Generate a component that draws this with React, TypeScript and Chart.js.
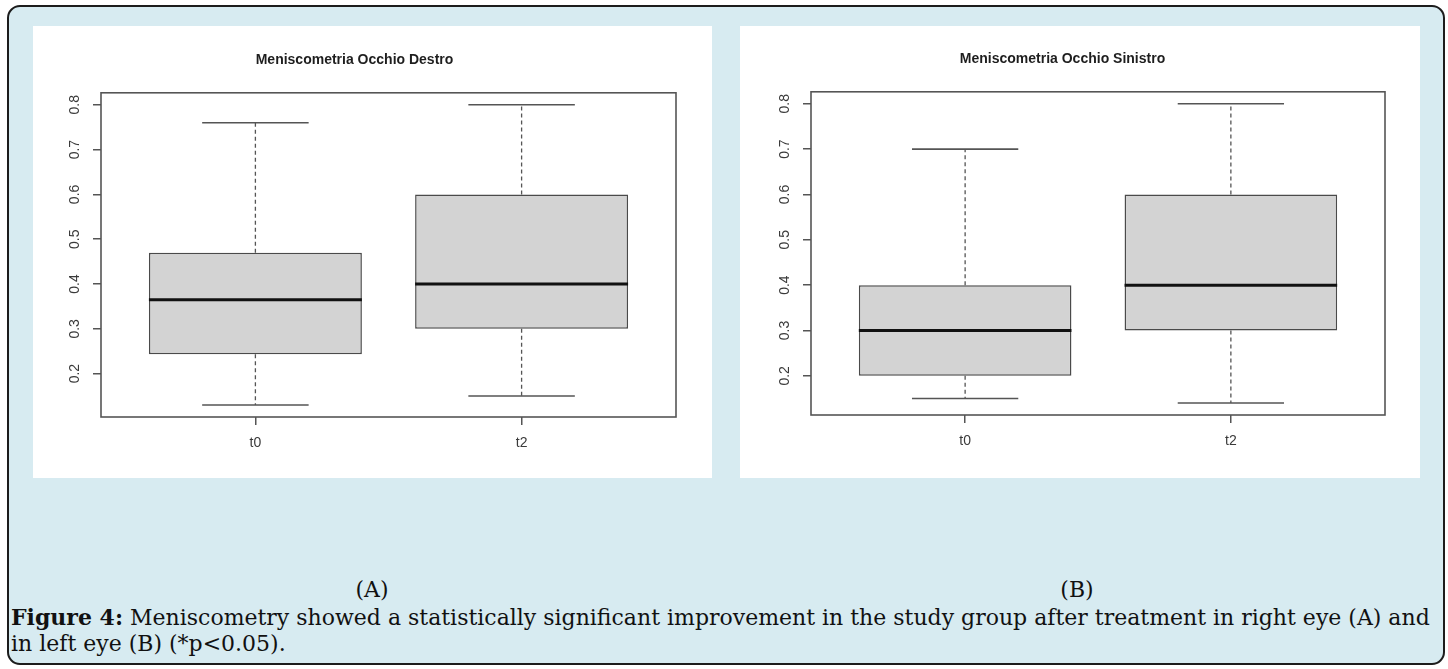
import React, { useEffect, useRef } from 'react';
import { Chart, registerables } from 'chart.js';

Chart.register(...registerables);

// ---------- data ----------
const CATEGORIES = ['t0', 't2'];
const Y_TICKS = [0.2, 0.3, 0.4, 0.5, 0.6, 0.7, 0.8];

// Panel A – right eye
const RIGHT_TITLE = 'Meniscometria Occhio Destro';
const RIGHT_MIN = [0.13, 0.15];
const RIGHT_Q1 = [0.243, 0.3];
const RIGHT_MEDIAN = [0.365, 0.4];
const RIGHT_Q3 = [0.47, 0.6];
const RIGHT_MAX = [0.76, 0.8];

// Panel B – left eye
const LEFT_TITLE = 'Meniscometria Occhio Sinistro';
const LEFT_MIN = [0.15, 0.14];
const LEFT_Q1 = [0.2, 0.3];
const LEFT_MEDIAN = [0.3, 0.4];
const LEFT_Q3 = [0.4, 0.6];
const LEFT_MAX = [0.7, 0.8];

const PANEL_LABELS = ['(A)', '(B)'];
const CAPTION_BOLD = 'Figure 4:';
const CAPTION_LINE1 =
  ' Meniscometry showed a statistically significant improvement in the study group after treatment in right eye (A) and';
const CAPTION_LINE2 = 'in left eye (B) (*p<0.05).';

type Stats = { min: number[]; q1: number[]; median: number[]; q3: number[]; max: number[] };
type Geo = { yAxisWidth: number; padRight: number; xAxisHeight: number; titleTop: number; titleBottom: number };

const AXIS_FONT = 'Liberation Sans, Arial, sans-serif';
const LINE_COLOR = '#555555';

function makeBoxPlugin(s: Stats) {
  return {
    id: 'rBoxPlot',
    beforeDatasetsDraw(chart: any) {
      const { ctx } = chart;
      const y = chart.scales.y;
      const bars = chart.getDatasetMeta(0).data;
      ctx.save();
      bars.forEach((bar: any, i: number) => {
        const cx = bar.x;
        const staple = bar.width / 4;
        const pMin = y.getPixelForValue(s.min[i]);
        const pMax = y.getPixelForValue(s.max[i]);
        const pQ1 = y.getPixelForValue(s.q1[i]);
        const pQ3 = y.getPixelForValue(s.q3[i]);
        ctx.strokeStyle = LINE_COLOR;
        ctx.lineWidth = 1.3;
        ctx.setLineDash([4, 3]);
        ctx.beginPath();
        ctx.moveTo(cx, pQ3);
        ctx.lineTo(cx, pMax);
        ctx.moveTo(cx, pQ1);
        ctx.lineTo(cx, pMin);
        ctx.stroke();
        ctx.setLineDash([]);
        ctx.lineWidth = 1.6;
        ctx.beginPath();
        ctx.moveTo(cx - staple, pMax);
        ctx.lineTo(cx + staple, pMax);
        ctx.moveTo(cx - staple, pMin);
        ctx.lineTo(cx + staple, pMin);
        ctx.stroke();
      });
      ctx.restore();
    },
    afterDatasetsDraw(chart: any) {
      const { ctx } = chart;
      const y = chart.scales.y;
      const bars = chart.getDatasetMeta(0).data;
      ctx.save();
      ctx.strokeStyle = '#111111';
      ctx.lineWidth = 3;
      bars.forEach((bar: any, i: number) => {
        const pm = y.getPixelForValue(s.median[i]);
        ctx.beginPath();
        ctx.moveTo(bar.x - bar.width / 2, pm);
        ctx.lineTo(bar.x + bar.width / 2, pm);
        ctx.stroke();
      });
      ctx.restore();
    },
    afterDraw(chart: any) {
      const { ctx, chartArea } = chart;
      const y = chart.scales.y;
      ctx.save();
      ctx.strokeStyle = LINE_COLOR;
      ctx.lineWidth = 1.6;
      ctx.strokeRect(chartArea.left, chartArea.top, chartArea.right - chartArea.left, chartArea.bottom - chartArea.top);
      ctx.fillStyle = '#3a3a3a';
      ctx.font = `14px ${AXIS_FONT}`;
      ctx.textAlign = 'center';
      ctx.textBaseline = 'middle';
      y.ticks.forEach((t: any) => {
        const py = y.getPixelForValue(t.value);
        ctx.save();
        ctx.translate(chartArea.left - 26, py);
        ctx.rotate(-Math.PI / 2);
        ctx.fillText(String(t.value), 0, 0);
        ctx.restore();
      });
      ctx.restore();
    },
  };
}

function BoxPanel({ width, height, title, stats, geo }: { width: number; height: number; title: string; stats: Stats; geo: Geo }) {
  const ref = useRef<HTMLCanvasElement>(null);
  useEffect(() => {
    if (!ref.current) return;
    const lo = Math.min(...stats.min);
    const hi = Math.max(...stats.max);
    const ext = (hi - lo) * 0.04;
    const n = CATEGORIES.length;
    const xExt = n * 0.04;
    const chart = new Chart(ref.current, {
      type: 'bar',
      data: {
        datasets: [
          {
            data: CATEGORIES.map((_, i) => ({ x: i + 1, y: [stats.q1[i], stats.q3[i]] })) as any,
            backgroundColor: '#d3d3d3',
            borderColor: '#4a4a4a',
            borderWidth: 1.5,
            borderSkipped: false,
            barPercentage: 0.8,
            categoryPercentage: 1,
          },
        ],
      },
      options: {
        responsive: false,
        animation: false,
        events: [],
        layout: { padding: { left: 0, right: geo.padRight, top: 0, bottom: 0 } },
        plugins: {
          legend: { display: false },
          tooltip: { enabled: false },
          title: {
            display: true,
            text: title,
            color: '#1e1e1e',
            font: { family: AXIS_FONT, size: 14, weight: 'bold', lineHeight: 1.2 },
            padding: { top: geo.titleTop, bottom: geo.titleBottom },
          },
        },
        scales: {
          x: {
            type: 'linear',
            min: 0.5 - xExt,
            max: n + 0.5 + xExt,
            offset: false,
            afterBuildTicks: (sc: any) => {
              sc.ticks = CATEGORIES.map((_, i) => ({ value: i + 1 }));
            },
            afterFit: (sc: any) => {
              sc.height = geo.xAxisHeight;
            },
            grid: { display: true, drawOnChartArea: false, drawTicks: true, tickLength: 8, color: LINE_COLOR, lineWidth: 1.5, offset: false },
            border: { display: false },
            ticks: {
              callback: (_v: any, i: number) => CATEGORIES[i],
              padding: 10,
              color: '#3a3a3a',
              font: { family: AXIS_FONT, size: 14 },
              maxRotation: 0,
              autoSkip: false,
            },
          },
          y: {
            type: 'linear',
            min: lo - ext,
            max: hi + ext,
            beginAtZero: false,
            afterBuildTicks: (sc: any) => {
              sc.ticks = Y_TICKS.map((v) => ({ value: v }));
            },
            afterFit: (sc: any) => {
              sc.width = geo.yAxisWidth;
            },
            grid: { display: true, drawOnChartArea: false, drawTicks: true, tickLength: 8, color: LINE_COLOR, lineWidth: 1.5 },
            border: { display: false },
            ticks: { display: false },
          },
        },
      } as any,
      plugins: [makeBoxPlugin(stats) as any],
    });
    return () => chart.destroy();
  }, []);
  return <canvas ref={ref} width={width} height={height} style={{ display: 'block', width, height }} />;
}

const captionFont = '"DejaVu Serif", "Liberation Serif", serif';

export default function App() {
  const rightStats: Stats = { min: RIGHT_MIN, q1: RIGHT_Q1, median: RIGHT_MEDIAN, q3: RIGHT_Q3, max: RIGHT_MAX };
  const leftStats: Stats = { min: LEFT_MIN, q1: LEFT_Q1, median: LEFT_MEDIAN, q3: LEFT_Q3, max: LEFT_MAX };
  return (
    <div style={{ position: 'absolute', left: 0, top: 0, width: 1448, height: 669, overflow: 'hidden', background: '#ffffff' }}>
      <div
        style={{
          position: 'absolute',
          left: 7,
          top: 5,
          width: 1434,
          height: 656,
          border: '2px solid #1c1c1c',
          borderRadius: 13,
          background: '#d7ebf1',
        }}
      />
      <div style={{ position: 'absolute', left: 33, top: 26, width: 679, height: 452, background: '#ffffff' }}>
        <BoxPanel
          width={679}
          height={452}
          title={RIGHT_TITLE}
          stats={rightStats}
          geo={{ yAxisWidth: 68, padRight: 36, xAxisHeight: 61, titleTop: 26, titleBottom: 24 }}
        />
      </div>
      <div style={{ position: 'absolute', left: 740, top: 26, width: 680, height: 452, background: '#ffffff' }}>
        <BoxPanel
          width={680}
          height={452}
          title={LEFT_TITLE}
          stats={leftStats}
          geo={{ yAxisWidth: 71, padRight: 35, xAxisHeight: 63, titleTop: 25, titleBottom: 24 }}
        />
      </div>
      {PANEL_LABELS.map((lab, i) => (
        <div
          key={lab}
          style={{
            position: 'absolute',
            left: i === 0 ? 372 : 1077,
            top: 577,
            transform: 'translateX(-50%)',
            fontFamily: captionFont,
            fontSize: 22,
            lineHeight: '26px',
            color: '#111',
            whiteSpace: 'nowrap',
          }}
        >
          {lab}
        </div>
      ))}
      <div
        style={{
          position: 'absolute',
          left: 11,
          top: 604,
          fontFamily: captionFont,
          fontSize: 22,
          lineHeight: '26px',
          color: '#111',
          whiteSpace: 'nowrap',
        }}
      >
        <div>
          <b>{CAPTION_BOLD}</b>
          {CAPTION_LINE1}
        </div>
        <div>{CAPTION_LINE2}</div>
      </div>
    </div>
  );
}
